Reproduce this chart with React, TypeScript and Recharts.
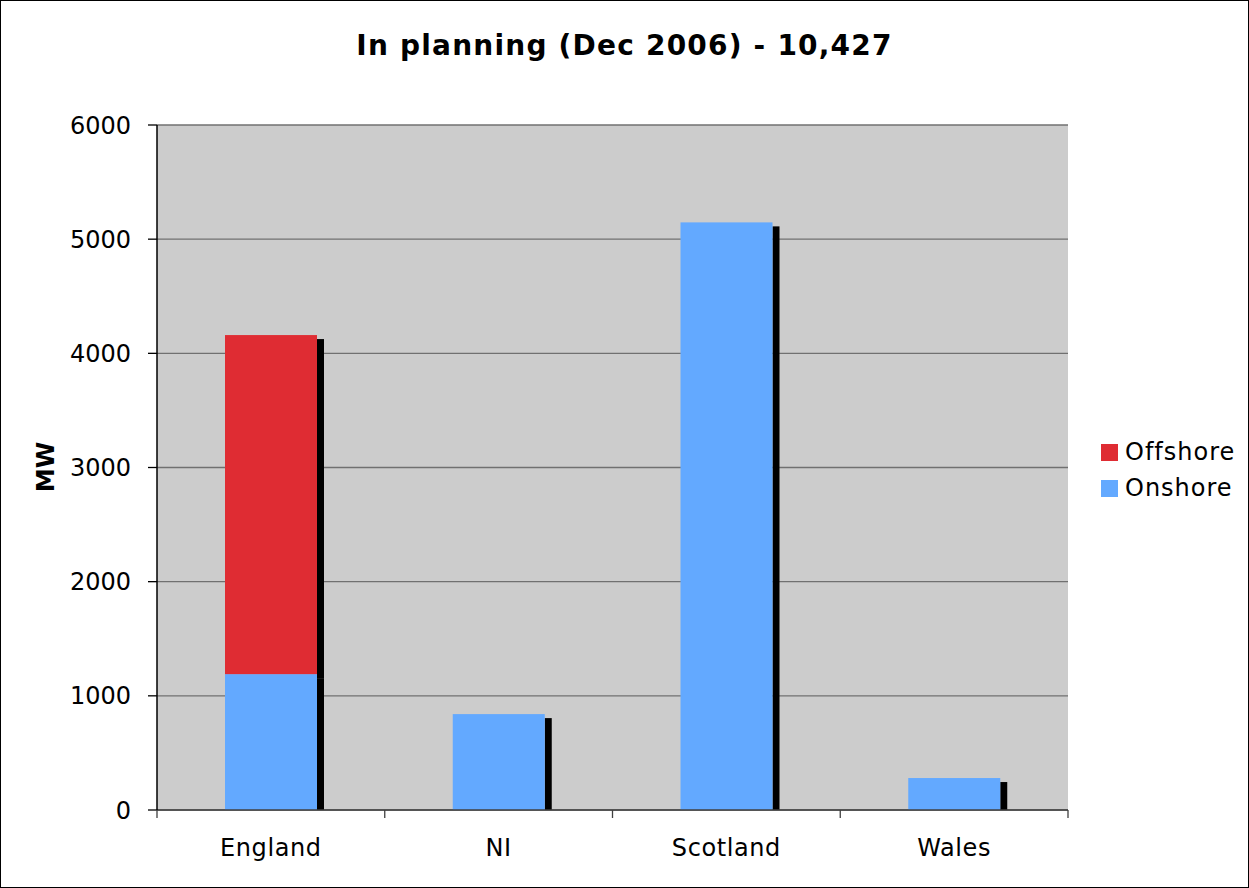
import { Bar, BarChart, CartesianGrid, Legend, XAxis, YAxis } from "recharts";

const regions = ["England", "NI", "Scotland", "Wales"];
const onshoreMW = [1190, 840, 5147, 280];
const offshoreMW = [2970, 0, 0, 0];
const yTicks = [0, 1000, 2000, 3000, 4000, 5000, 6000];
const legendOrder = ["Offshore", "Onshore"];
const chartTitle = "In planning (Dec 2006) - 10,427";
const yTitle = "MW";

const data = regions.map((region, i) => ({
  region,
  Onshore: onshoreMW[i],
  Offshore: offshoreMW[i]
}));

const FONT = "'DejaVu Sans', Verdana, sans-serif";
const RED = "#df2c33";
const BLUE = "#63a9ff";
const SHADOW_W = 7;
const SHADOW_DY = 4;
const X_TICK_GAP = 29;
const EDGE_TICK = 8;

// bar with a black drop shadow on its right side; bottom segment stops at the axis
function shadowShape(isBase: boolean) {
  return (props: any) => {
    const { x, y, width, height, fill } = props;
    if (!height || height <= 0) return <g />;
    const sh = isBase ? height - SHADOW_DY : height;
    return (
      <g>
        <rect x={x + width} y={y + SHADOW_DY} width={SHADOW_W} height={Math.max(sh, 0)} fill="#000" />
        <rect x={x} y={y} width={width} height={height} fill={fill} />
      </g>
    );
  };
}

// category label plus tick marks on the category boundaries (Excel style)
function CategoryTick(props: any) {
  const { x, y, payload, index, width } = props;
  const band = width / regions.length;
  const axisY = y - X_TICK_GAP;
  const edges = index === regions.length - 1 ? [x - band / 2, x + band / 2] : [x - band / 2];
  return (
    <g>
      {edges.map((ex) => (
        <line key={ex} x1={ex} x2={ex} y1={axisY} y2={axisY + EDGE_TICK} stroke="#404040" strokeWidth={1.3} />
      ))}
      <text
        x={x}
        y={y}
        dy={17}
        textAnchor="middle"
        fontFamily={FONT}
        fontSize={24}
        fill="#000"
        letterSpacing={0.6}
      >
        {payload.value}
      </text>
    </g>
  );
}

function renderLegend(props: any) {
  const items = [...(props.payload ?? [])].sort(
    (a: any, b: any) => legendOrder.indexOf(a.value) - legendOrder.indexOf(b.value)
  );
  return (
    <div style={{ fontFamily: FONT, fontSize: 24, color: "#000", letterSpacing: 1 }}>
      {items.map((item: any) => (
        <div key={item.value} style={{ display: "flex", alignItems: "center", height: 36 }}>
          <span style={{ width: 17, height: 17, background: item.color, marginRight: 7, display: "inline-block" }} />
          <span>{item.value}</span>
        </div>
      ))}
    </div>
  );
}

export default function App() {
  return (
    <div style={{ position: "relative", width: 1249, height: 888, background: "#fff" }}>
      <style>{"body{margin:0}"}</style>
      <BarChart
        width={1249}
        height={888}
        data={data}
        margin={{ top: 125, right: 181, bottom: 0, left: 0 }}
        barSize={92}
      >
        <CartesianGrid vertical={false} fill="#cccccc" stroke="#707070" strokeWidth={1.3} />
        <XAxis
          dataKey="region"
          height={78}
          tickLine={false}
          tickSize={0}
          tickMargin={X_TICK_GAP}
          axisLine={{ stroke: "#404040", strokeWidth: 1.5 }}
          tick={<CategoryTick />}
        />
        <YAxis
          width={157}
          domain={[0, 6000]}
          ticks={yTicks}
          tickSize={9}
          tickMargin={17}
          tickLine={{ stroke: "#000", strokeWidth: 1.3 }}
          axisLine={{ stroke: "#000", strokeWidth: 1.5 }}
          tick={{ fontFamily: FONT, fontSize: 24, fill: "#000" }}
        />
        <YAxis
          yAxisId="frame"
          orientation="right"
          width={0}
          domain={[0, 6000]}
          tick={false}
          tickLine={false}
          axisLine={{ stroke: "#808080", strokeWidth: 2 }}
        />
        <Legend
          layout="horizontal"
          align="center"
          verticalAlign="middle"
          content={renderLegend}
          wrapperStyle={{ left: 1101, top: 434, width: 148 }}
        />
        <Bar dataKey="Onshore" stackId="a" fill={BLUE} shape={shadowShape(true)} isAnimationActive={false} />
        <Bar dataKey="Offshore" stackId="a" fill={RED} shape={shadowShape(false)} isAnimationActive={false} />
      </BarChart>
      <div
        style={{
          position: "absolute",
          left: 0,
          top: 32,
          width: 1249,
          textAlign: "center",
          fontFamily: FONT,
          fontWeight: "bold",
          fontSize: 28,
          lineHeight: "28px",
          letterSpacing: 1.2
        }}
      >
        {chartTitle}
      </div>
      <div
        style={{
          position: "absolute",
          left: 46,
          top: 467,
          transform: "translate(-50%, -50%) rotate(-90deg)",
          fontFamily: FONT,
          fontWeight: "bold",
          fontSize: 24,
          lineHeight: 1,
          whiteSpace: "nowrap"
        }}
      >
        {yTitle}
      </div>
      <div
        style={{
          position: "absolute",
          inset: 0,
          border: "1px solid #000",
          pointerEvents: "none"
        }}
      />
    </div>
  );
}
